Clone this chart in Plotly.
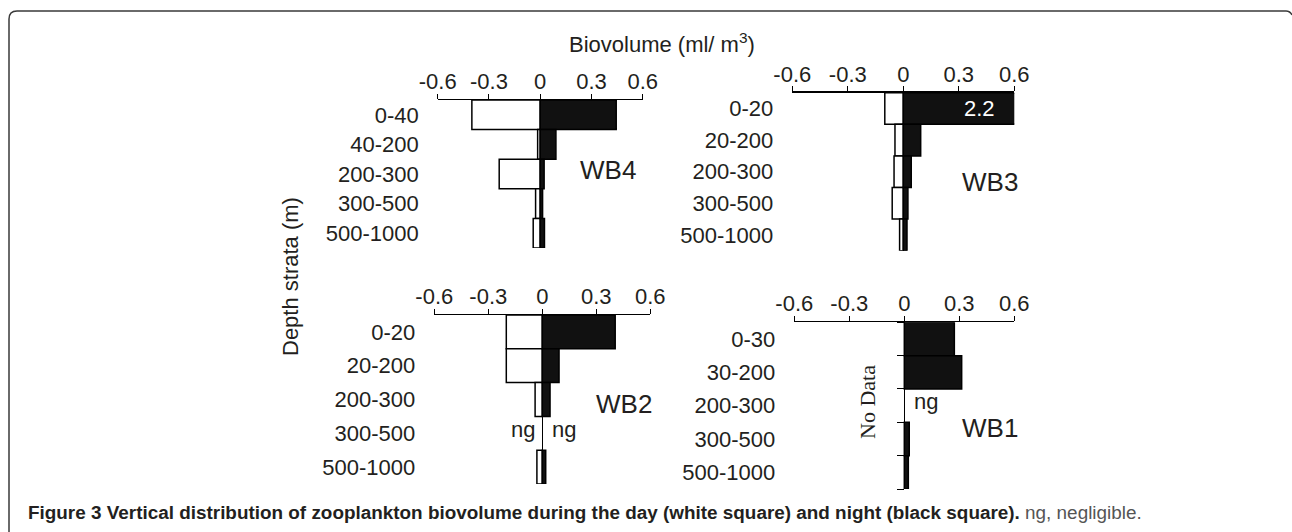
import plotly.graph_objects as go

# ---------------- data ----------------
panels = ["WB4", "WB3", "WB2", "WB1"]
strata_wb4 = ["0-40", "40-200", "200-300", "300-500", "500-1000"]
strata_wb3 = ["0-20", "20-200", "200-300", "300-500", "500-1000"]
strata_wb2 = ["0-20", "20-200", "200-300", "300-500", "500-1000"]
strata_wb1 = ["0-30", "30-200", "200-300", "300-500", "500-1000"]

# biovolume (ml/m3); None = negligible (ng); day_wb1 = None -> no data
day_wb4 = [0.40, 0.015, 0.24, 0.027, 0.041]
night_wb4 = [0.445, 0.092, 0.023, 0.014, 0.025]
day_wb3 = [0.10, 0.045, 0.05, 0.06, 0.02]
night_wb3 = [2.2, 0.094, 0.043, 0.025, 0.02]
day_wb2 = [0.20, 0.20, 0.04, None, 0.03]
night_wb2 = [0.405, 0.093, 0.043, None, 0.019]
day_wb1 = None
night_wb1 = [0.273, 0.313, None, 0.027, 0.022]

tick_vals = [-0.6, -0.3, 0, 0.3, 0.6]
tick_text = ["-0.6", "-0.3", "0", "0.3", "0.6"]

# ---------------- layout helpers ----------------
W, H = 1292, 532
FONT = "Liberation Sans, Arial, sans-serif"
TXT = "#231f20"


def px(x):
    return x / W


def py(y):
    return 1 - y / H


# pixel boxes of each panel's plotting area (left, right, top, bottom)
boxes = {
    "WB4": (437.7, 642.7, 100, 248),
    "WB3": (792.3, 1014.3, 92.7, 250.7),
    "WB2": (434.3, 650.3, 315, 484),
    "WB1": (794.3, 1014.3, 322.3, 489),
}
label_pos = {"WB4": (608, 170), "WB3": (990, 182), "WB2": (624, 404), "WB1": (990, 428)}

data = {
    "WB4": (strata_wb4, day_wb4, night_wb4),
    "WB3": (strata_wb3, day_wb3, night_wb3),
    "WB2": (strata_wb2, day_wb2, night_wb2),
    "WB1": (strata_wb1, day_wb1, night_wb1),
}

fig = go.Figure()
annotations = []
layout = {}

for i, name in enumerate(panels, start=1):
    strata, day, night = data[name]
    n = len(strata)
    ypos = list(range(n))
    xa = "x" if i == 1 else f"x{i}"
    ya = "y" if i == 1 else f"y{i}"
    xkey = "xaxis" if i == 1 else f"xaxis{i}"
    ykey = "yaxis" if i == 1 else f"yaxis{i}"
    l, r, t, b = boxes[name]

    if day is not None:
        fig.add_trace(go.Bar(
            orientation="h", y=ypos,
            x=[(-v if v is not None else None) for v in day],
            width=1, marker=dict(color="white", line=dict(color="black", width=1.5)),
            xaxis=xa, yaxis=ya, showlegend=False, hoverinfo="skip"))
    fig.add_trace(go.Bar(
        orientation="h", y=ypos, x=night,
        width=1, marker=dict(color="#111111", line=dict(color="black", width=1.5)),
        xaxis=xa, yaxis=ya, showlegend=False, hoverinfo="skip"))

    layout[xkey] = dict(
        domain=[px(l), px(r)], anchor=ya, side="top", range=[tick_vals[0], tick_vals[-1]],
        tickvals=tick_vals, ticktext=tick_text, ticks="outside", ticklen=5,
        tickcolor="black", tickwidth=1, showline=True, linecolor="black", linewidth=1.3,
        showgrid=False, zeroline=True, zerolinecolor="black", zerolinewidth=1.2,
        automargin=False, ticklabelstandoff=-4,
        tickfont=dict(size=22, color=TXT, family=FONT), fixedrange=True)
    layout[ykey] = dict(
        domain=[py(b), py(t)], anchor=xa, range=[n - 0.5, -0.5],
        tickvals=ypos, ticktext=strata, ticks="", showline=False, showgrid=False,
        zeroline=False, ticklabelstandoff=18, automargin=False,
        tickfont=dict(size=22, color=TXT, family=FONT), fixedrange=True)

    # negligible labels
    for row, v in enumerate(night):
        if v is None:
            annotations.append(dict(xref=xa, yref=ya, x=0.12, y=row - 0.12, text="ng",
                                    xanchor="center", yanchor="middle",
                                    showarrow=False, font=dict(size=22, color=TXT, family=FONT)))
        elif v > tick_vals[-1]:
            annotations.append(dict(xref=xa, yref=ya, x=0.41, y=row, text=f"{v}",
                                    xanchor="center", yanchor="middle",
                                    showarrow=False, font=dict(size=22, color="white", family=FONT)))
    if day is not None:
        for row, v in enumerate(day):
            if v is None:
                annotations.append(dict(xref=xa, yref=ya, x=-0.107, y=row - 0.12, text="ng",
                                        xanchor="center", yanchor="middle",
                                        showarrow=False, font=dict(size=22, color=TXT, family=FONT)))
    else:
        annotations.append(dict(xref=xa, yref=ya, x=-0.2, y=(n - 1) / 2 - 0.1, text="No Data",
                                textangle=-90, showarrow=False, xanchor="center", yanchor="middle",
                                font=dict(size=22, color=TXT, family="Liberation Serif, Times New Roman, serif")))
        # boundary ticks on the zero line
        zero_paper = px(l + (0 - tick_vals[0]) / (tick_vals[-1] - tick_vals[0]) * (r - l))
        layout["yaxis5"] = dict(
            overlaying=ya, anchor="free", position=zero_paper, side="left",
            range=[n - 0.5, -0.5], tickvals=[k - 0.5 for k in range(n + 1)],
            showticklabels=False, ticks="outside", ticklen=7, tickcolor="black",
            tickwidth=1, showline=False, showgrid=False, zeroline=False,
            automargin=False, fixedrange=True)
        fig.add_trace(go.Bar(orientation="h", y=ypos, x=[None] * n, xaxis=xa, yaxis="y5",
                             showlegend=False, hoverinfo="skip"))

    lx, ly = label_pos[name]
    annotations.append(dict(xref="paper", yref="paper", x=px(lx), y=py(ly), text=name,
                            xanchor="center", yanchor="middle",
                            showarrow=False, font=dict(size=26, color=TXT, family=FONT)))

annotations += [
    dict(xref="paper", yref="paper", x=px(567), y=py(43), xanchor="left", yanchor="middle",
         text="Biovolume (ml/ m<sup>3</sup>)",
         showarrow=False, font=dict(size=22, color=TXT, family=FONT)),
    dict(xref="paper", yref="paper", x=px(290), y=py(277), text="Depth strata (m)", textangle=-90,
         xanchor="center", yanchor="middle",
         showarrow=False, font=dict(size=22, color=TXT, family=FONT)),
    dict(xref="paper", yref="paper", x=px(26), y=py(512), xanchor="left", yanchor="middle",
         text="<b>Figure 3 Vertical distribution of zooplankton biovolume during the day (white square) "
              "and night (black square).</b> <span style='color:#555'>ng, negligible.</span>",
         showarrow=False, font=dict(size=18.9, color=TXT, family=FONT)),
]

frame = (f"M {px(9)},{py(532)} L {px(9)},{py(19)} Q {px(9)},{py(11)} {px(17)},{py(11)} "
         f"L {px(1286)},{py(11)} Q {px(1290)},{py(11)} {px(1292)},{py(15)}")

fig.update_layout(
    width=W, height=H, margin=dict(l=0, r=0, t=0, b=0, autoexpand=False),
    paper_bgcolor="white", plot_bgcolor="white", barmode="overlay",
    annotations=annotations,
    shapes=[dict(type="path", xref="paper", yref="paper", path=frame,
                 line=dict(color="#3a3a3a", width=1.5))],
    **layout)

fig.write_html("out.html", config={"displayModeBar": False, "staticPlot": True},
               post_script="document.body.style.margin='0';document.body.style.overflow='hidden';")
